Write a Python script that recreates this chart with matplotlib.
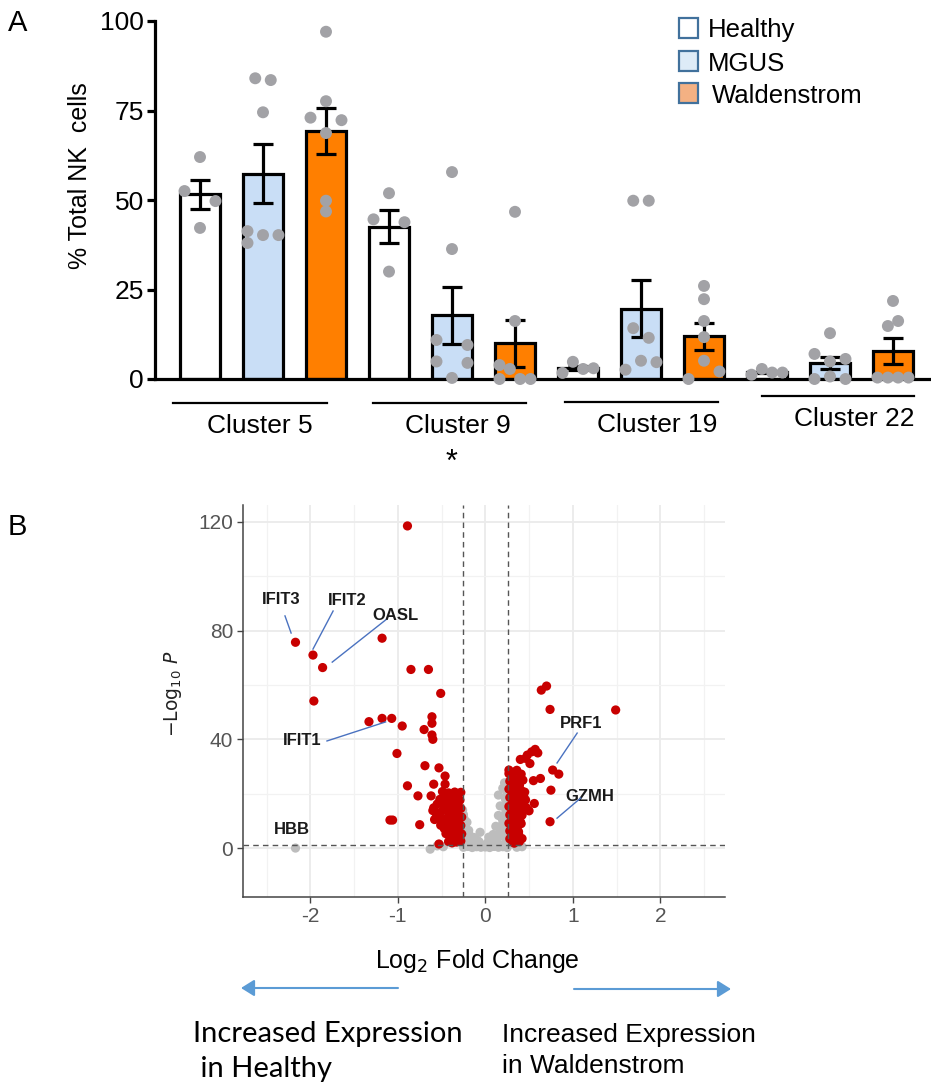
import numpy as np
import matplotlib
matplotlib.use("Agg")
import matplotlib.pyplot as plt
from matplotlib.patches import Rectangle, FancyArrowPatch
from matplotlib.lines import Line2D

plt.rcParams['font.family'] = ['Liberation Sans', 'DejaVu Sans']

# ---------------- Panel A data ----------------
clusters = ["Cluster 5", "Cluster 9", "Cluster 19", "Cluster 22"]
groups = ["Healthy", "MGUS", "Waldenstrom"]

# individual sample values (% of total NK cells), per cluster x group
c5_healthy = [62.0, 52.5, 49.7, 42.2]
c5_mgus = [84.0, 83.5, 74.5, 41.3, 38.0, 40.2, 40.2]
c5_wald = [97.0, 77.6, 73.0, 72.3, 68.7, 49.8, 46.8]
c9_healthy = [51.9, 44.6, 43.8, 30.0]
c9_mgus = [57.8, 36.3, 10.9, 9.5, 4.9, 4.5, 0.3]
c9_wald = [46.7, 16.2, 3.9, 2.8, 0.0, 0.0, 0.0]
c19_healthy = [1.7, 4.8, 2.8, 3.0]
c19_mgus = [49.8, 49.8, 14.2, 11.5, 5.1, 2.6, 4.7]
c19_wald = [26.0, 22.3, 16.2, 11.7, 5.1, 0.0, 2.1]
c22_healthy = [1.2, 2.8, 1.8, 1.8]
c22_mgus = [12.8, 7.0, 5.6, 4.9, 0.0, 0.7, 0.0]
c22_wald = [21.8, 16.2, 14.8, 0.4, 0.4, 0.4, 0.4]

# horizontal jitter slots of the dots (layout only)
c5_healthy_slot = [0, -1, 1, 0]
c5_mgus_slot = [-0.5, 0.5, 0, -1, -1, 0, 1]
c5_wald_slot = [0, 0, -1, 1, 0, 0, 0]
c9_healthy_slot = [0, -1, 1, 0]
c9_mgus_slot = [0, 0, -1, 1, -1, 1, 0]
c9_wald_slot = [0, 0, -1, -0.33, -1, 0.33, 1]
c19_healthy_slot = [-1, -0.33, 0.33, 1]
c19_mgus_slot = [-0.5, 0.5, -0.5, 0.5, 0, -1, 1]
c19_wald_slot = [0, 0, 0, 0, 0, -1, 1]
c22_healthy_slot = [-1, -0.33, 0.33, 1]
c22_mgus_slot = [0, -1, 1, 0, -1, 0, 1]
c22_wald_slot = [0, 0.33, -0.33, -1, -0.33, 0.33, 1]

samples = [c5_healthy, c5_mgus, c5_wald, c9_healthy, c9_mgus, c9_wald,
           c19_healthy, c19_mgus, c19_wald, c22_healthy, c22_mgus, c22_wald]
slots = [c5_healthy_slot, c5_mgus_slot, c5_wald_slot, c9_healthy_slot, c9_mgus_slot, c9_wald_slot,
         c19_healthy_slot, c19_mgus_slot, c19_wald_slot, c22_healthy_slot, c22_mgus_slot, c22_wald_slot]

yticks_A = [0, 25, 50, 75, 100]

# ---------------- Panel B data ----------------
red_x = [-0.89, -2.17, -1.97, -1.86, -1.96, -1.18, -0.85, -0.65, -0.51, -1.33, -1.18, -1.07,
         -0.95, -1.01, -0.70, -0.61, -0.61, -0.61, -0.60, -0.69, -0.53, -0.46, -0.89, -0.59,
         -0.46, -0.77, -0.62, -0.59, -1.09, -1.06, -0.75, -0.53, -0.38,
         -0.28, -0.31, -0.35, -0.38, -0.42, -0.46, -0.49,
         -0.29, -0.33, -0.37, -0.40, -0.44, -0.48, -0.52, -0.55,
         -0.28, -0.32, -0.35, -0.39, -0.43, -0.47, -0.51, -0.56, -0.60,
         -0.27, -0.30, -0.34, -0.38, -0.41, -0.45, -0.49, -0.53, -0.58,
         -0.28, -0.31, -0.35, -0.39, -0.43, -0.47, -0.51,
         -0.27, -0.30, -0.34, -0.37, -0.41, -0.45,
         -0.28, -0.33, -0.36, -0.42,
         0.64, 0.70, 0.74, 1.49, 0.57, 0.53, 0.48, 0.40, 0.51, 0.60, 0.77, 0.84, 0.27, 0.41,
         0.63, 0.55, 0.75, 0.56, 0.50, 0.74, 0.44, 0.40, 0.40, 0.42, 0.38, 0.36, 0.46, 0.43,
         0.27, 0.30, 0.33, 0.28, 0.32, 0.36, 0.39,
         0.27, 0.30, 0.34, 0.37, 0.41, 0.45,
         0.28, 0.31, 0.35, 0.38, 0.42, 0.46,
         0.27, 0.30, 0.34, 0.37, 0.41, 0.47,
         0.28, 0.31, 0.35, 0.38, 0.42,
         0.27, 0.30, 0.34, 0.37, 0.41,
         0.28, 0.31, 0.35, 0.38,
         0.28, 0.31, 0.35, 0.39, 0.33]
red_y = [118.5, 75.7, 71.0, 66.4, 54.1, 77.2, 65.7, 65.7, 56.9, 46.5, 47.7, 47.7,
         44.9, 34.8, 43.6, 48.3, 45.9, 41.6, 40.0, 30.3, 29.5, 26.5, 22.9, 23.5,
         23.5, 19.2, 19.2, 14.8, 10.3, 10.3, 8.6, 1.5, 1.9,
         20.5, 19.8, 20.6, 19.2, 20.3, 19.5, 20.8,
         17.6, 16.9, 17.8, 16.4, 17.3, 16.8, 17.9, 16.2,
         14.6, 13.8, 15.1, 14.2, 13.5, 14.7, 13.2, 12.6, 13.8,
         11.4, 10.6, 11.9, 10.2, 11.3, 10.8, 10.1, 11.0, 10.5,
         8.3, 7.1, 8.6, 7.4, 8.0, 7.2, 8.4,
         5.2, 4.1, 5.6, 3.8, 4.6, 5.3,
         2.6, 2.2, 3.0, 2.4,
         58.1, 59.6, 51.0, 50.8, 36.3, 35.4, 34.2, 32.6, 31.1, 35.0, 28.7, 27.2, 28.7, 27.2,
         25.6, 24.8, 21.3, 16.4, 13.7, 9.7, 18.9, 17.0, 9.7, 3.5, 6.0, 28.6, 33.0, 25.0,
         27.4, 26.2, 27.9, 24.6, 23.8, 24.9, 23.1,
         21.7, 20.9, 21.8, 20.4, 21.2, 20.6,
         18.6, 17.9, 18.8, 17.4, 18.3, 17.7,
         15.3, 14.6, 15.6, 14.1, 15.0, 14.8,
         12.2, 11.4, 12.5, 11.0, 12.1,
         9.1, 8.4, 9.5, 8.1, 9.0,
         6.3, 5.5, 6.6, 5.2,
         3.4, 2.6, 3.6, 2.4, 1.8]

gray_x = [-0.25, -0.20, -0.15, -0.10, -0.05, 0.00, 0.05, 0.10, 0.15, 0.20, 0.25,
          -0.22, -0.12, -0.02, 0.08, 0.18, 0.23, -0.17, 0.13, -0.07, 0.03,
          -0.26, -0.25, -0.24, -0.26, -0.23, -0.25, -0.22, -0.24, -0.20, -0.18, -0.16,
          -0.13, -0.06, -0.09, -0.21, -0.19,
          0.26, 0.24, 0.25, 0.23, 0.26, 0.22, 0.24, 0.21, 0.25, 0.20, 0.23, 0.18, 0.26,
          0.16, 0.21, 0.13, 0.10, 0.06, 0.19, 0.17, 0.15, 0.20, 0.22, 0.12, 0.15, 0.09, 0.04,
          -2.17, -0.63, -0.55, -0.48, 0.36, 0.42]
gray_y = [0.3, 0.6, 0.2, 0.5, 0.3, 0.4, 0.2, 0.6, 0.3, 0.5, 0.2,
          1.2, 1.4, 1.0, 1.3, 1.1, 1.6, 2.0, 2.2, 2.3, 2.1,
          14.0, 12.3, 10.6, 8.9, 7.7, 6.2, 5.0, 3.6, 3.3, 4.7, 3.0,
          3.9, 5.8, 2.8, 9.5, 6.5,
          24.2, 22.5, 20.3, 18.0, 16.2, 15.0, 13.2, 12.0, 10.5, 9.3, 7.8, 7.0, 6.0,
          5.2, 4.2, 3.6, 3.0, 2.6, 11.0, 15.5, 19.5, 22.0, 24.0, 8.0, 12.0, 5.0, 4.0,
          0.0, -0.4, 0.8, 0.5, 0.3, 0.5]

gene_labels = ["IFIT3", "IFIT2", "OASL", "IFIT1", "HBB", "PRF1", "GZMH"]
gene_text_xy = [(-2.33, 91.6), (-1.58, 90.9), (-1.03, 85.7), (-2.09, 39.7),
                (-2.21, 7.0), (1.09, 46.0), (1.20, 19.1)]
gene_line = [((-2.29, 85.4), (-2.22, 79.1)), ((-1.74, 87.2), (-1.97, 73.2)),
             ((-1.14, 83.9), (-1.75, 68.4)), ((-1.81, 39.4), (-1.14, 46.4)),
             None, ((1.05, 42.3), (0.82, 31.3)), ((1.09, 18.4), (0.82, 11.0))]

fc_cut = 0.26
p_cut = 1.3
xticks_B = [-2, -1, 0, 1, 2]
xtick_labels_B = ["-2", "-1", "0", "1", "2"]
yticks_B = [0, 40, 80, 120]

# ---------------- figure ----------------
W, H = 931, 1084
fig = plt.figure(figsize=(W / 100, H / 100), dpi=100)


def fx(x):
    return x / W


def fy(y):
    return 1 - y / H


# ---- Panel A ----
axA = fig.add_axes([fx(155), fy(379), (931 - 155) / W, (379 - 21) / H])
bar_colors = ["#FFFFFF", "#C9DEF6", "#FF7F00"]
slot_w = 15.5 / 63
for k, vals in enumerate(samples):
    vals = np.array(vals)
    mean = vals.mean()
    sem = vals.std(ddof=1) / np.sqrt(len(vals))
    pos = k
    axA.bar(pos, mean, width=40 / 63, color=bar_colors[k % 3], edgecolor="black",
            linewidth=2.3, zorder=2)
    axA.errorbar(pos, mean, yerr=sem, fmt="none", ecolor="black", elinewidth=2.3,
                 capsize=7.5, capthick=2.3, zorder=3)
    axA.scatter(pos + np.array(slots[k]) * slot_w, vals, s=74, color="#A2A2A6",
                edgecolors="none", zorder=4, clip_on=False)

axA.set_xlim(-45 / 63, 11 + 38 / 63)
axA.set_ylim(0, 100)
axA.set_yticks(yticks_A)
axA.set_xticks([])
for s in ["top", "right"]:
    axA.spines[s].set_visible(False)
axA.spines["left"].set_linewidth(2.3)
axA.spines["bottom"].set_linewidth(2.3)
axA.tick_params(axis="y", labelsize=19, length=6, width=2.3, pad=2)
axA.patch.set_alpha(0)

fig.text(fx(80), fy(176), "% Total NK  cells", rotation=90, ha="center", va="center",
         fontsize=18)

# legend (manual)
leg_fill = ["#FFFFFF", "#DDEBF7", "#F4B183"]
leg_y = [28, 61, 93]
leg_base = [37, 71, 103]
leg_tx = [708, 708, 712]
for g, col, yy, yb, tx in zip(groups, leg_fill, leg_y, leg_base, leg_tx):
    fig.add_artist(Rectangle((fx(679), fy(yy + 9.5)), 19 / W, 19 / H, facecolor=col,
                             edgecolor="#41719C", linewidth=1.6, transform=fig.transFigure))
    fig.text(fx(tx), fy(yb), g, fontsize=18.5, ha="left", va="baseline")

# cluster underlines and labels
line_spans = [(173, 327, 403), (373, 526, 403), (565, 718, 402), (762, 914, 396)]
label_pos = [(260, 433), (458, 433), (657, 432), (854, 426)]
for name, (x0, x1, yy), (lx, ly) in zip(clusters, line_spans, label_pos):
    fig.add_artist(Line2D([fx(x0), fx(x1)], [fy(yy), fy(yy)], color="black", linewidth=1.6,
                          transform=fig.transFigure))
    fig.text(fx(lx), fy(ly), name, fontsize=19, ha="center", va="baseline")
fig.text(fx(452), fy(471), "*", fontsize=22, ha="center", va="baseline")

fig.text(fx(8), fy(31), "A", fontsize=21, ha="left", va="baseline")
fig.text(fx(8), fy(535), "B", fontsize=21, ha="left", va="baseline")

# ---- Panel B ----
axB = fig.add_axes([fx(243), fy(897), (725 - 243) / W, (897 - 505) / H])
axB.set_xlim(-2.77, 2.74)
axB.set_ylim(-18, 126.2)
axB.set_xticks(xticks_B)
axB.set_xticklabels(xtick_labels_B)
axB.set_xticks([-2.5, -1.5, -0.5, 0.5, 1.5, 2.5], minor=True)
axB.set_yticks(yticks_B)
axB.set_yticks([20, 60, 100], minor=True)
axB.grid(True, which="major", color="#EBEBEB", linewidth=1.3, zorder=0)
axB.grid(True, which="minor", color="#F2F2F2", linewidth=0.9, zorder=0)
axB.set_axisbelow(True)
for s in ["top", "right"]:
    axB.spines[s].set_visible(False)
for s in ["left", "bottom"]:
    axB.spines[s].set_color("#444444")
    axB.spines[s].set_linewidth(1.1)
axB.tick_params(axis="both", which="major", labelsize=15, labelcolor="#555555",
                color="#444444", length=4, width=1.0, pad=3)
axB.tick_params(axis="both", which="minor", length=0)

axB.scatter(gray_x, gray_y, s=44, color="#BDBDBD", edgecolors="none", zorder=2)
axB.scatter(red_x, red_y, s=44, color="#C80000", edgecolors="none", zorder=3)
axB.axvline(-fc_cut, color="#555555", linestyle=(0, (4, 3)), linewidth=1.0, zorder=4)
axB.axvline(fc_cut, color="#555555", linestyle=(0, (4, 3)), linewidth=1.0, zorder=4)
axB.axhline(p_cut, color="#555555", linestyle=(0, (4, 3)), linewidth=1.0, zorder=4)

for lab, (tx, ty), ln in zip(gene_labels, gene_text_xy, gene_line):
    axB.text(tx, ty, lab, fontsize=12, fontweight="bold", ha="center", va="center",
             color="#1A1A1A", zorder=5)
    if ln is not None:
        axB.plot([ln[0][0], ln[1][0]], [ln[0][1], ln[1][1]], color="#4A72C0",
                 linewidth=1.0, zorder=5)

fig.text(fx(173), fy(694), r"$-\mathrm{Log}_{10}\ \mathit{P}$", rotation=90, ha="center",
         va="center", fontsize=13.5, color="#222222")
fig.text(fx(477), fy(968), r"Log$_2$ Fold Change", ha="center", va="baseline", fontsize=18)

# arrows
arrow_col = "#5B9BD5"
fig.add_artist(FancyArrowPatch(
    (fx(398), fy(988)), (fx(241), fy(988)), transform=fig.transFigure,
    arrowstyle="-|>,head_length=8,head_width=5", color=arrow_col, linewidth=1.5,
    shrinkA=0, shrinkB=0))
fig.add_artist(FancyArrowPatch(
    (fx(574), fy(989)), (fx(731), fy(989)), transform=fig.transFigure,
    arrowstyle="-|>,head_length=8,head_width=5", color=arrow_col, linewidth=1.5,
    shrinkA=0, shrinkB=0))

fig.text(fx(193), fy(1042), "Increased Expression", fontsize=21, ha="left", va="baseline",
         family=["Lato", "DejaVu Sans"])
fig.text(fx(193), fy(1077), " in Healthy", fontsize=21, ha="left", va="baseline",
         family=["Lato", "DejaVu Sans"])
fig.text(fx(502), fy(1042), "Increased Expression", fontsize=19, ha="left", va="baseline")
fig.text(fx(502), fy(1073), "in Waldenstrom", fontsize=19, ha="left", va="baseline")

fig.savefig("out.png", dpi=100)
